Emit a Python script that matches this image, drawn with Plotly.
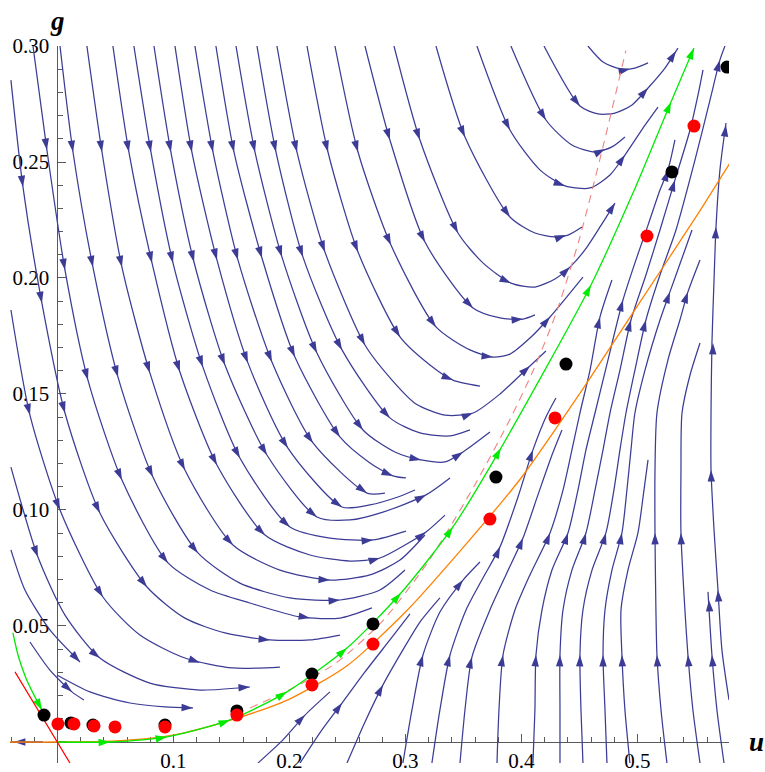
import math
import plotly.graph_objects as go

U_RANGE = [-0.0409, 0.5789]
G_RANGE = [-0.00906, 0.300]

black_u = [-0.0116, 0.0116, 0.0306, 0.0927, 0.1547, 0.2194, 0.2720, 0.3780, 0.4384, 0.5297, 0.5772]
black_g = [0.0116, 0.0082, 0.0073, 0.0073, 0.0134, 0.0293, 0.0509, 0.1142, 0.1629, 0.2457, 0.2909]
red_u = [0.0004, 0.0142, 0.0315, 0.0496, 0.0927, 0.1547, 0.2194, 0.2720, 0.3728, 0.4289, 0.5082, 0.5487]
red_g = [0.0078, 0.0078, 0.0069, 0.0065, 0.0065, 0.0116, 0.0246, 0.0422, 0.0961, 0.1397, 0.2181, 0.2655]

green1_u = [-0.0384, -0.0340, -0.0272, -0.0203, -0.0134]
green1_g = [0.0470, 0.0375, 0.0276, 0.0203, 0.0138]
green2_u = [0.0, 0.0453, 0.0944, 0.1487, 0.1978, 0.2496, 0.2961, 0.3409, 0.3823, 0.4599, 0.4961, 0.5289, 0.5487]
green2_g = [0.0, 0.0, 0.0022, 0.0095, 0.0216, 0.0405, 0.0642, 0.0927, 0.1267, 0.1970, 0.2366, 0.2759, 0.2991]
green_arrow_u = [-0.0134, 0.0453, 0.0944, 0.1487, 0.1978, 0.2496, 0.2961, 0.3409, 0.3823, 0.4599, 0.5289, 0.5487]
green_arrow_g = [0.0138, 0.0, 0.0022, 0.0095, 0.0216, 0.0405, 0.0642, 0.0927, 0.1267, 0.1970, 0.2759, 0.2991]

orange_u = [-0.0409, 0.0, 0.05, 0.10, 0.15, 0.20, 0.25, 0.30, 0.35, 0.40, 0.45, 0.50, 0.55, 0.5797]
orange_g = [0.0, 0.0, 0.0005, 0.0030, 0.0095, 0.0185, 0.0330, 0.0560, 0.0840, 0.1140, 0.1500, 0.1880, 0.2260, 0.2496]

dashed_u = [0.166, 0.200, 0.240, 0.280, 0.320, 0.360, 0.390, 0.410, 0.430, 0.450, 0.470, 0.490]
dashed_g = [0.0147, 0.0225, 0.0340, 0.0520, 0.0780, 0.1110, 0.1390, 0.1600, 0.1850, 0.2170, 0.2560, 0.2980]

redline_u = [-0.0366, 0.0108]
redline_g = [0.0302, -0.0091]

# streamlines (u, g), with arrowhead positions on each
stream_u = [
    [-0.0211, -0.0091, 0.0065, 0.0263, 0.0556, 0.0953, 0.1315, 0.1659, 0.2091, 0.2435, 0.2711],
    [0.0022, 0.0134, 0.0306, 0.0522, 0.0823, 0.1211, 0.1573, 0.2004, 0.2435, 0.2780, 0.2996],
    [0.0254, 0.0384, 0.0556, 0.0797, 0.1099, 0.1513, 0.1918, 0.2349, 0.2694, 0.2953, 0.3168],
    [0.0478, 0.0616, 0.0815, 0.1056, 0.1375, 0.1789, 0.2177, 0.2522, 0.2780, 0.2996, 0.3177, 0.3341],
    [0.0659, 0.0806, 0.0996, 0.1254, 0.1573, 0.2004, 0.2349, 0.2720, 0.3004],
    [0.0832, 0.0978, 0.1177, 0.1444, 0.1806, 0.2237, 0.2522, 0.2806, 0.3177, 0.3384],
    [0.1013, 0.1159, 0.1375, 0.1642, 0.1987, 0.2453, 0.2694, 0.2935, 0.3082],
    [0.1185, 0.1341, 0.1556, 0.1849, 0.2203, 0.2668, 0.2823],
    [0.1366, 0.1522, 0.1763, 0.2047, 0.2435, 0.2694, 0.2892, 0.3004],
    [0.1539, 0.1703, 0.1935, 0.2237, 0.2634, 0.2909, 0.3134, 0.3341, 0.3496, 0.3728],
    [0.1720, 0.1884, 0.2116, 0.2453, 0.2866, 0.3125, 0.3384, 0.3556],
    [0.1892, 0.2065, 0.2306, 0.2651, 0.2884, 0.3091, 0.3341, 0.3582, 0.3815, 0.4073, 0.4211],
    [0.2151, 0.2332, 0.2591, 0.2953, 0.3211, 0.3409, 0.3642],
    [0.2392, 0.2591, 0.2875, 0.3263, 0.3556, 0.3754, 0.3901, 0.4073, 0.4246, 0.4530],
    [0.2651, 0.2866, 0.3168, 0.3582, 0.3815, 0.4013, 0.4116],
    [0.2901, 0.3125, 0.3453, 0.3668, 0.3909, 0.4116, 0.4289, 0.4418, 0.4547, 0.4677, 0.4806],
    [0.3263, 0.3513, 0.3901, 0.4116, 0.4289, 0.4401, 0.4522],
    [0.3616, 0.3901, 0.4159, 0.4375, 0.4591, 0.4763, 0.4892, 0.5065, 0.5177],
    [0.3909, 0.4211, 0.4435, 0.4634, 0.4780, 0.4892],
    [0.4194, 0.4504, 0.4660, 0.4806, 0.4953, 0.5091, 0.5237, 0.5349],
    [0.4573, 0.4703, 0.4849, 0.4978, 0.5091],
    [-0.0401, -0.0297, -0.0134, 0.0065, 0.0366, 0.0772, 0.1099, 0.1444, 0.1832, 0.2177, 0.2435],
    [-0.0401, -0.0237, 0.0022, 0.0392, 0.0711, 0.1099, 0.1513, 0.1918],
    [-0.0401, -0.0168, 0.0065, 0.0366, 0.0797, 0.1228, 0.1659],
    [-0.0401, -0.0280, -0.0065, 0.0194],
    [-0.0237, -0.0065, 0.0125, 0.0228],
    [-0.0004, 0.0280, 0.0625, 0.0927, 0.1168],
    [0.1728, 0.1944, 0.2134, 0.2349],
    [0.2091, 0.2280, 0.2453, 0.2651, 0.2866, 0.3039],
    [0.2496, 0.2651, 0.2806, 0.2978, 0.3125, 0.3297],
    [0.2978, 0.3056, 0.3151, 0.3297, 0.3496, 0.3642],
    [0.3228, 0.3297, 0.3384, 0.3522, 0.3668, 0.3815, 0.3970, 0.4099, 0.4211, 0.4297],
    [0.3470, 0.3513, 0.3573, 0.3728, 0.3866, 0.4013, 0.4142, 0.4263, 0.4349],
    [0.3789, 0.3806, 0.3841, 0.3944, 0.4073, 0.4246, 0.4358, 0.4435, 0.4504, 0.4591, 0.4677, 0.4780],
    [0.4099, 0.4116, 0.4125, 0.4177, 0.4263, 0.4401, 0.4487, 0.4556, 0.4634, 0.4746, 0.4875, 0.4987,
     0.5091, 0.5194, 0.5263, 0.5323],
    [0.4332, 0.4332, 0.4332, 0.4358, 0.4435, 0.4556, 0.4634, 0.4703, 0.4763, 0.4849, 0.4944, 0.5073,
     0.5194, 0.5323, 0.5453, 0.5522, 0.5565],
    [0.4530, 0.4513, 0.4504, 0.4530, 0.4608, 0.4728, 0.4797, 0.4849, 0.4901, 0.4978, 0.5073, 0.5194,
     0.5332, 0.5496, 0.5625, 0.5711, 0.5754],
    [0.4737, 0.4720, 0.4703, 0.4720, 0.4780, 0.4866, 0.4909, 0.4944, 0.4978, 0.5065, 0.5194, 0.5280,
     0.5409, 0.5470],
    [0.4935, 0.4892, 0.4866, 0.4858, 0.4918, 0.5004, 0.5056, 0.5091],
    [0.5254, 0.5203, 0.5168, 0.5159, 0.5151, 0.5151, 0.5168, 0.5263, 0.5366, 0.5435, 0.5539],
    [0.5539, 0.5478, 0.5435, 0.5409, 0.5375, 0.5375, 0.5384, 0.5453, 0.5539],
    [0.5746, 0.5685, 0.5642, 0.5608],
    [0.5789, 0.5728, 0.5694, 0.5660, 0.5634, 0.5634, 0.5642, 0.5660, 0.5677, 0.5711, 0.5763],
    [-0.0125, -0.0401],
]
stream_g = [
    [0.300, 0.2552, 0.2034, 0.1560, 0.1129, 0.0772, 0.0655, 0.0599, 0.0539, 0.0534, 0.0578],
    [0.300, 0.2543, 0.2047, 0.1573, 0.1142, 0.0815, 0.0685, 0.0621, 0.0612, 0.0655, 0.0741],
    [0.300, 0.2543, 0.2047, 0.1591, 0.1172, 0.0849, 0.0741, 0.0698, 0.0720, 0.0784, 0.0892],
    [0.300, 0.2543, 0.2065, 0.1595, 0.1194, 0.0892, 0.0806, 0.0780, 0.0793, 0.0849, 0.0905, 0.0978],
    [0.300, 0.2543, 0.2065, 0.1616, 0.1224, 0.0927, 0.0879, 0.0871, 0.0909],
    [0.300, 0.2543, 0.2069, 0.1625, 0.1237, 0.0970, 0.0957, 0.0991, 0.1065, 0.1138],
    [0.300, 0.2543, 0.2078, 0.1634, 0.1267, 0.1013, 0.1022, 0.1056, 0.1086],
    [0.300, 0.2543, 0.2078, 0.1638, 0.1289, 0.1073, 0.1073],
    [0.300, 0.2543, 0.2086, 0.1659, 0.1315, 0.1203, 0.1147, 0.1138],
    [0.300, 0.2543, 0.2091, 0.1677, 0.1345, 0.1250, 0.1216, 0.1207, 0.1250, 0.1336],
    [0.300, 0.2543, 0.2091, 0.1690, 0.1397, 0.1332, 0.1319, 0.1345],
    [0.300, 0.2543, 0.2112, 0.1711, 0.1560, 0.1457, 0.1409, 0.1418, 0.1500, 0.1621, 0.1685],
    [0.300, 0.2543, 0.2112, 0.1746, 0.1625, 0.1560, 0.1534],
    [0.300, 0.2543, 0.2142, 0.1789, 0.1690, 0.1659, 0.1672, 0.1741, 0.1832, 0.2004],
    [0.300, 0.2595, 0.2155, 0.1871, 0.1828, 0.1823, 0.1841],
    [0.300, 0.2595, 0.2194, 0.2065, 0.1978, 0.1961, 0.1996, 0.2047, 0.2121, 0.2220, 0.2323],
    [0.300, 0.2608, 0.2263, 0.2194, 0.2177, 0.2185, 0.2220],
    [0.300, 0.2638, 0.2466, 0.2397, 0.2388, 0.2444, 0.2530, 0.2659, 0.2737],
    [0.300, 0.2681, 0.2573, 0.2543, 0.2565, 0.2608],
    [0.300, 0.2741, 0.2707, 0.2711, 0.2746, 0.2819, 0.2905, 0.2991],
    [0.300, 0.2931, 0.2901, 0.2905, 0.2927],
    [0.2853, 0.2392, 0.1892, 0.1418, 0.0987, 0.0668, 0.0534, 0.0470, 0.0440, 0.0440, 0.0461],
    [0.1862, 0.1409, 0.1000, 0.0625, 0.0461, 0.0362, 0.0319, 0.0323],
    [0.1185, 0.0797, 0.0547, 0.0362, 0.0254, 0.0224, 0.0237],
    [0.0828, 0.0655, 0.0483, 0.0345],
    [0.0431, 0.0310, 0.0216, 0.0181],
    [0.0289, 0.0216, 0.0168, 0.0151, 0.0147],
    [-0.0091, 0.0009, 0.0116, 0.0216],
    [-0.0091, 0.0052, 0.0168, 0.0302, 0.0440, 0.0552],
    [-0.0091, 0.0086, 0.0246, 0.0397, 0.0517, 0.0621],
    [-0.0091, 0.0138, 0.0375, 0.0560, 0.0698, 0.0776],
    [-0.0091, 0.0138, 0.0375, 0.0569, 0.0707, 0.0841, 0.1056, 0.1259, 0.1401, 0.1483],
    [-0.0091, 0.0138, 0.0366, 0.0569, 0.0720, 0.0879, 0.1065, 0.1237, 0.1345],
    [-0.0091, 0.0138, 0.0375, 0.0569, 0.0720, 0.0901, 0.1086, 0.1259, 0.1418, 0.1603, 0.1832, 0.1991],
    [-0.0091, 0.0138, 0.0375, 0.0569, 0.0741, 0.0901, 0.1086, 0.1259, 0.1418, 0.1647, 0.1905, 0.2078,
     0.2228, 0.2379, 0.2466, 0.2595],
    [-0.0091, 0.0138, 0.0375, 0.0569, 0.0741, 0.0901, 0.1086, 0.1259, 0.1418, 0.1603, 0.1819, 0.2013,
     0.2207, 0.2422, 0.2638, 0.2789, 0.2897],
    [-0.0091, 0.0138, 0.0375, 0.0569, 0.0741, 0.0901, 0.1086, 0.1259, 0.1418, 0.1603, 0.1819, 0.2013,
     0.2207, 0.2509, 0.2767, 0.2940, 0.3000],
    [-0.0091, 0.0138, 0.0375, 0.0569, 0.0741, 0.0901, 0.1086, 0.1259, 0.1418, 0.1603, 0.1819, 0.1940,
     0.2121, 0.2207],
    [-0.0091, 0.0138, 0.0375, 0.0569, 0.0741, 0.0901, 0.1086, 0.1216],
    [-0.0091, 0.0138, 0.0375, 0.0569, 0.0901, 0.1172, 0.1418, 0.1647, 0.1819, 0.1940, 0.2078],
    [-0.0091, 0.0138, 0.0375, 0.0569, 0.0901, 0.1172, 0.1418, 0.1582, 0.1720],
    [-0.0091, 0.0138, 0.0375, 0.0647],
    [0.0181, 0.0397, 0.0655, 0.0914, 0.1172, 0.1418, 0.1720, 0.1991, 0.2220, 0.2466, 0.2668],
    [0.0, 0.0],
]
arrow_u = [
    [-0.0091, 0.0065, 0.0263, 0.0556, 0.0953, 0.2177],
    [0.0134, 0.0306, 0.0522, 0.0823, 0.1211, 0.2435],
    [0.0384, 0.0556, 0.0797, 0.1099, 0.1513, 0.2349],
    [0.0616, 0.0815, 0.1056, 0.1375, 0.1789, 0.2780, 0.3177],
    [0.0806, 0.0996, 0.1254, 0.1573, 0.2004, 0.2720],
    [0.0978, 0.1177, 0.1444, 0.1806, 0.2237, 0.3177],
    [0.1159, 0.1375, 0.1642, 0.1987, 0.2453],
    [0.1341, 0.1556, 0.1849, 0.2203, 0.2668],
    [0.1522, 0.1763, 0.2047, 0.2435, 0.2892],
    [0.1703, 0.1935, 0.2237, 0.2634, 0.3134, 0.3496],
    [0.1884, 0.2116, 0.2453, 0.2866],
    [0.2065, 0.2306, 0.2651, 0.3582, 0.4073],
    [0.2332, 0.2591, 0.2953, 0.3409],
    [0.2591, 0.2875, 0.3263, 0.3754, 0.4246],
    [0.2866, 0.3168, 0.3582, 0.4013],
    [0.3125, 0.3453, 0.3909, 0.4418, 0.4806],
    [0.3513, 0.3901, 0.4384],
    [0.3901, 0.4375, 0.4892],
    [0.4211, 0.4720],
    [0.4504, 0.5091, 0.5332],
    [0.4935],
    [-0.0297, -0.0134, 0.0065, 0.0366, 0.0772, 0.1832],
    [-0.0237, 0.0022, 0.0392, 0.1228],
    [-0.0168, 0.0366, 0.1659],
    [0.0194],
    [0.0125],
    [0.1168],
    [0.2134],
    [0.2453],
    [0.2806],
    [0.3151, 0.3496],
    [0.3384, 0.3815, 0.4099],
    [0.3573, 0.4013],
    [0.3841, 0.4246, 0.4677],
    [0.4125, 0.4401, 0.4875, 0.5263],
    [0.4332, 0.4556, 0.4944, 0.5323],
    [0.4504, 0.4728, 0.5073, 0.5711],
    [0.4703, 0.4866, 0.5280],
    [0.4866],
    [0.5168, 0.5151, 0.5435],
    [0.5435, 0.5375],
    [0.5642, 0.5616],
    [0.5694, 0.5634, 0.5651, 0.5677, 0.5763],
    [-0.0375],
]
arrow_g = [
    [0.2552, 0.2034, 0.1560, 0.1129, 0.0772, 0.0534],
    [0.2543, 0.2047, 0.1573, 0.1142, 0.0815, 0.0612],
    [0.2543, 0.2047, 0.1591, 0.1172, 0.0849, 0.0698],
    [0.2543, 0.2065, 0.1595, 0.1194, 0.0892, 0.0793, 0.0905],
    [0.2543, 0.2065, 0.1616, 0.1224, 0.0927, 0.0871],
    [0.2543, 0.2069, 0.1625, 0.1237, 0.0970, 0.1065],
    [0.2543, 0.2078, 0.1634, 0.1267, 0.1013],
    [0.2543, 0.2078, 0.1638, 0.1289, 0.1073],
    [0.2543, 0.2086, 0.1659, 0.1315, 0.1147],
    [0.2543, 0.2091, 0.1677, 0.1345, 0.1216, 0.1250],
    [0.2543, 0.2091, 0.1690, 0.1397],
    [0.2543, 0.2112, 0.1711, 0.1418, 0.1621],
    [0.2543, 0.2112, 0.1746, 0.1560],
    [0.2543, 0.2142, 0.1789, 0.1659, 0.1832],
    [0.2595, 0.2155, 0.1871, 0.1823],
    [0.2595, 0.2194, 0.1978, 0.2047, 0.2323],
    [0.2608, 0.2263, 0.2185],
    [0.2638, 0.2397, 0.2530],
    [0.2681, 0.2556],
    [0.2741, 0.2819, 0.2978],
    [0.2901],
    [0.2392, 0.1892, 0.1418, 0.0987, 0.0668, 0.0440],
    [0.1409, 0.1000, 0.0625, 0.0341],
    [0.0797, 0.0362, 0.0237],
    [0.0345],
    [0.0216],
    [0.0147],
    [0.0116],
    [0.0168],
    [0.0246],
    [0.0375, 0.0698],
    [0.0375, 0.0841, 0.1259],
    [0.0366, 0.0879],
    [0.0375, 0.0901, 0.1832],
    [0.0375, 0.0901, 0.1905, 0.2466],
    [0.0375, 0.0901, 0.1819, 0.2422],
    [0.0375, 0.0901, 0.1819, 0.2940],
    [0.0375, 0.0901, 0.1940],
    [0.0375],
    [0.0375, 0.0901, 0.1940],
    [0.0375, 0.0901],
    [0.0375, 0.0612],
    [0.0655, 0.1172, 0.1720, 0.2220, 0.2659],
    [0.0],
]

SU = 1160.0
SG = 2320.0
BLUE = "rgb(60,60,150)"
GREEN = "rgb(0,235,0)"

fig = go.Figure()


def add_line(us, gs, color, width, dash=None, shape="spline"):
    fig.add_trace(go.Scatter(x=us, y=gs, mode="lines",
                             line=dict(color=color, width=width, dash=dash, shape=shape, smoothing=0.7),
                             hoverinfo="skip", showlegend=False))


def tangent_angle(us, gs, pu, pg):
    n = len(us)
    best_i, best_d = 0, None
    for i in range(n):
        d = ((us[i] - pu) * SU) ** 2 + ((gs[i] - pg) * SG) ** 2
        if best_d is None or d < best_d:
            best_d, best_i = d, i
    i0 = max(best_i - 1, 0)
    i1 = min(best_i + 1, n - 1)
    dx = (us[i1] - us[i0]) * SU
    dy = (gs[i1] - gs[i0]) * SG
    return math.degrees(math.atan2(dx, dy))


def add_arrows(pu, pg, ang, color, size=12):
    fig.add_trace(go.Scatter(x=pu, y=pg, mode="markers",
                             marker=dict(symbol="arrow", size=size, angle=ang, color=color,
                                         line=dict(width=0)),
                             hoverinfo="skip", showlegend=False))


au, ag, aa = [], [], []
for us, gs, aus, ags in zip(stream_u, stream_g, arrow_u, arrow_g):
    add_line(us, gs, BLUE, 1.25)
    for pu, pg in zip(aus, ags):
        au.append(pu)
        ag.append(pg)
        aa.append(tangent_angle(us, gs, pu, pg))
add_arrows(au, ag, aa, BLUE)

add_line(dashed_u, dashed_g, "rgb(240,130,130)", 1.1, dash="8px,6px")
add_line(orange_u, orange_g, "rgb(255,128,0)", 1.3)
add_line(green1_u, green1_g, GREEN, 1.3)
add_line(green2_u, green2_g, GREEN, 1.3)
gang = []
for pu, pg in zip(green_arrow_u, green_arrow_g):
    if pu < 0:
        gang.append(tangent_angle(green1_u, green1_g, pu, pg))
    else:
        gang.append(tangent_angle(green2_u, green2_g, pu, pg))
add_arrows(green_arrow_u, green_arrow_g, gang, GREEN)
add_line(redline_u, redline_g, "rgb(255,0,0)", 1.2, shape="linear")

fig.add_trace(go.Scatter(x=black_u, y=black_g, mode="markers",
                         marker=dict(color="black", size=13, line=dict(width=0)),
                         hoverinfo="skip", showlegend=False))
fig.add_trace(go.Scatter(x=red_u, y=red_g, mode="markers",
                         marker=dict(color="rgb(255,0,0)", size=13, line=dict(width=0)),
                         hoverinfo="skip", showlegend=False))

AXC = "rgb(90,90,90)"
FONT = "Liberation Serif"
xpos = (0 - G_RANGE[0]) / (G_RANGE[1] - G_RANGE[0])
ypos = (0 - U_RANGE[0]) / (U_RANGE[1] - U_RANGE[0])

fig.update_layout(
    width=765, height=772,
    margin=dict(l=10, r=36, t=46, b=9, autoexpand=False),
    paper_bgcolor="white", plot_bgcolor="white",
    font=dict(family=FONT, size=21, color="black"),
    xaxis=dict(range=U_RANGE, anchor="free", position=xpos, showgrid=False, zeroline=False,
               showline=True, linecolor=AXC, linewidth=1,
               tickmode="linear", tick0=0, dtick=0.1, tickformat=".1f", labelalias={"0.0": ""},
               ticks="inside", ticklen=8, tickcolor=AXC, tickwidth=1, ticklabelstandoff=0,
               minor=dict(tickmode="linear", tick0=0, dtick=0.02, ticks="inside", ticklen=5,
                          tickcolor=AXC, tickwidth=1, showgrid=False),
               tickfont=dict(family=FONT, size=21), automargin=False, layer="below traces"),
    yaxis=dict(range=G_RANGE, anchor="free", position=ypos, showgrid=False, zeroline=False,
               showline=True, linecolor=AXC, linewidth=1,
               tickmode="linear", tick0=0, dtick=0.05, tickformat=".2f", labelalias={"0.00": ""},
               ticks="inside", ticklen=8, tickcolor=AXC, tickwidth=1, ticklabelstandoff=4,
               minor=dict(tickmode="linear", tick0=0, dtick=0.01, ticks="inside", ticklen=5,
                          tickcolor=AXC, tickwidth=1, showgrid=False),
               tickfont=dict(family=FONT, size=21), automargin=False, layer="below traces"),
    annotations=[
        dict(text="<b><i>g</i></b>", x=ypos, y=1.0, xref="paper", yref="paper", xanchor="center",
             yanchor="bottom", yshift=8, showarrow=False, font=dict(family=FONT, size=27)),
        dict(text="<b><i>u</i></b>", x=1.0, y=xpos, xref="paper", yref="paper", xanchor="left",
             yanchor="middle", xshift=18, showarrow=False, font=dict(family=FONT, size=27)),
    ],
)

fig.write_html("out.html")
